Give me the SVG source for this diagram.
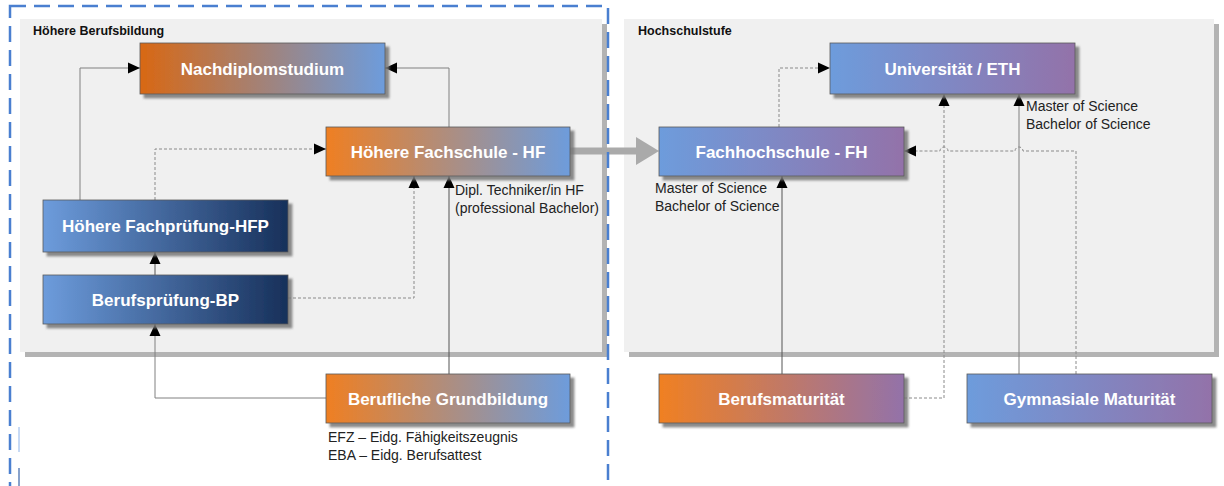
<svg xmlns="http://www.w3.org/2000/svg" width="1224" height="486" viewBox="0 0 1224 486">
<style>
.node text{font-family:"Liberation Sans",Arial,sans-serif;font-weight:bold;font-size:17px;fill:#fff;text-anchor:middle}
.box{stroke:#5a5a5a;stroke-width:0.8;filter:url(#sh)}
.ptitle{font-family:"Liberation Sans",Arial,sans-serif;font-weight:bold;font-size:12.5px;fill:#111}
.lbl{font-family:"Liberation Sans",Arial,sans-serif;font-size:14px;fill:#222}
.solid{fill:none;stroke:#808080;stroke-width:1}
.dark{fill:none;stroke:#555;stroke-width:1}
.dash{fill:none;stroke:#8a8a8a;stroke-width:1;stroke-dasharray:3 2}
</style>
<defs>
<filter id="sh" x="-5%" y="-10%" width="115%" height="130%">
<feDropShadow dx="4" dy="4" stdDeviation="1.2" flood-color="#777" flood-opacity="0.85"/>
</filter>
<marker id="arr" markerUnits="userSpaceOnUse" markerWidth="13" markerHeight="12" refX="12" refY="6" orient="auto">
<path d="M0,0.5 L12,6 L0,11.5 z" fill="#000"/>
</marker>
<linearGradient id="gOB" x1="0" y1="0" x2="1" y2="0"><stop offset="0" stop-color="#ef7f22"/><stop offset="1" stop-color="#6d9cdc"/></linearGradient>
<linearGradient id="gOB2" x1="0" y1="0" x2="1" y2="0"><stop offset="0" stop-color="#d86814"/><stop offset="1" stop-color="#6d9cdc"/></linearGradient>
<linearGradient id="gBN" x1="0" y1="0" x2="1" y2="0"><stop offset="0" stop-color="#6d9cdc"/><stop offset="1" stop-color="#17305a"/></linearGradient>
<linearGradient id="gBP" x1="0" y1="0" x2="1" y2="0"><stop offset="0" stop-color="#6d9cdc"/><stop offset="1" stop-color="#9372a9"/></linearGradient>
<linearGradient id="gOP" x1="0" y1="0" x2="1" y2="0"><stop offset="0" stop-color="#f08022"/><stop offset="1" stop-color="#9372a9"/></linearGradient>
</defs>
<rect width="1224" height="486" fill="#fff"/>

<g id="panel-left">
<rect x="25" y="24" width="582" height="333" fill="#b3b3b3"/>
<rect x="20" y="19" width="582" height="333" fill="#f0f0f0"/>
<text class="ptitle" x="33" y="35">Höhere Berufsbildung</text>
</g>
<g id="panel-right">
<rect x="629" y="24" width="590" height="333" fill="#b3b3b3"/>
<rect x="624" y="19" width="590" height="333" fill="#f0f0f0"/>
<text class="ptitle" x="638" y="35">Hochschulstufe</text>
</g>

<g id="connectors">
<path class="solid" d="M80,200 V68 H140" marker-end="url(#arr)"/>
<path class="solid" d="M449,127 V68 H385" marker-end="url(#arr)"/>
<path class="dash" d="M155,200 V149 H326" marker-end="url(#arr)"/>
<path class="dark" d="M155,275 V252" marker-end="url(#arr)"/>
<path class="solid" d="M326,398 H155 V324" marker-end="url(#arr)"/>
<path class="dash" d="M288,298 H414 V176" marker-end="url(#arr)"/>
<path class="dark" d="M449,374 V176" marker-end="url(#arr)"/>
<path class="dash" d="M779,127 V68 H830" marker-end="url(#arr)"/>
<path class="dark" d="M782,374 V176" marker-end="url(#arr)"/>
<path class="dash" d="M904,398 H944 V94" marker-end="url(#arr)"/>
<path class="solid" d="M1019,374 V94" marker-end="url(#arr)"/>
<path class="dash" d="M1076,374 V151 H1023 A4,4 0 0 0 1015,151 H948 A4,4 0 0 0 940,151 H904" marker-end="url(#arr)"/>
<line x1="570" y1="151" x2="640" y2="151" stroke="#aaa" stroke-width="7"/>
<polygon points="636,137 659,151 636,165" fill="#aaa"/>
</g>

<g id="frame">
<rect x="10" y="6" width="598" height="500" fill="none" stroke="#4a7fd0" stroke-width="2.5" stroke-dasharray="16 8"/>
<line x1="19" y1="427" x2="19" y2="452" stroke="#8fb4ea" stroke-width="1"/>
<line x1="19" y1="468" x2="19" y2="486" stroke="#3a64a8" stroke-width="1.2"/>
</g>

<g id="n-nachdiplom" class="node">
<rect class="box" x="140" y="43" width="245" height="51" fill="url(#gOB2)"/>
<text x="262.5" y="74.5">Nachdiplomstudium</text>
</g>
<g id="n-hf" class="node">
<rect class="box" x="326" y="127" width="244" height="49" fill="url(#gOB)"/>
<text x="448" y="157.5">Höhere Fachschule - HF</text>
</g>
<g id="n-hfp" class="node">
<rect class="box" x="43" y="200" width="245" height="52" fill="url(#gBN)"/>
<text x="165.5" y="232">Höhere Fachprüfung-HFP</text>
</g>
<g id="n-bp" class="node">
<rect class="box" x="43" y="275" width="245" height="49" fill="url(#gBN)"/>
<text x="165.5" y="305.5">Berufsprüfung-BP</text>
</g>
<g id="n-grundbildung" class="node">
<rect class="box" x="326" y="374" width="244" height="49" fill="url(#gOB)"/>
<text x="448" y="404.5">Berufliche Grundbildung</text>
</g>
<g id="n-uni" class="node">
<rect class="box" x="830" y="43" width="245" height="51" fill="url(#gBP)"/>
<text x="952.5" y="74.5">Universität / ETH</text>
</g>
<g id="n-fh" class="node">
<rect class="box" x="659" y="127" width="245" height="49" fill="url(#gBP)"/>
<text x="781.5" y="157.5">Fachhochschule - FH</text>
</g>
<g id="n-bm" class="node">
<rect class="box" x="659" y="374" width="245" height="49" fill="url(#gOP)"/>
<text x="781.5" y="404.5">Berufsmaturität</text>
</g>
<g id="n-gm" class="node">
<rect class="box" x="967" y="374" width="245" height="49" fill="url(#gBP)"/>
<text x="1089.5" y="404.5">Gymnasiale Maturität</text>
</g>

<g id="labels">
<text class="lbl" x="455" y="195">Dipl. Techniker/in HF</text>
<text class="lbl" x="455" y="213">(professional Bachelor)</text>
<text class="lbl" x="1026" y="111">Master of Science</text>
<text class="lbl" x="1026" y="129">Bachelor of Science</text>
<text class="lbl" x="655" y="193">Master of Science</text>
<text class="lbl" x="655" y="211">Bachelor of Science</text>
<text class="lbl" x="328" y="442">EFZ – Eidg. Fähigkeitszeugnis</text>
<text class="lbl" x="328" y="460">EBA – Eidg. Berufsattest</text>
</g>
</svg>
